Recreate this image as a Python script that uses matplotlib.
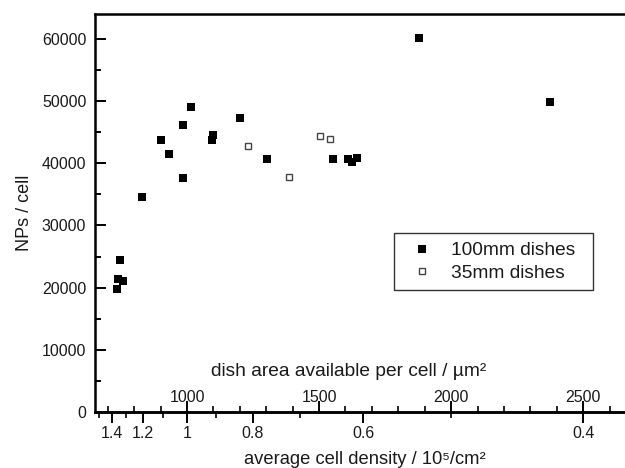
import matplotlib
matplotlib.use("Agg")
import matplotlib.pyplot as plt
from matplotlib.ticker import FixedLocator, FixedFormatter, MultipleLocator

plt.rcParams['font.family'] = ['Liberation Sans', 'DejaVu Sans']

# dish area available per cell (um^2) and NPs per cell
area_100 = [734, 746, 738, 759, 831, 900, 931, 985, 985, 1015, 1097, 1095,
            1201, 1302, 1554, 1611, 1624, 1643, 1879, 2375]
nps_100 = [19750, 24400, 21350, 21030, 34630, 43720, 41470, 46130, 37680, 49020,
           44590, 43790, 47320, 40620, 40620, 40620, 40190, 40830, 60100, 49820]
area_35 = [1232, 1385, 1505, 1543]
nps_35 = [42820, 37730, 44430, 43950]

area_ticks = [1000, 1500, 2000, 2500]
density_major = [1.4, 1.2, 1.0, 0.8, 0.6, 0.4]
density_major_labels = ['1.4', '1.2', '1', '0.8', '0.6', '0.4']
density_minor = [1.5, 1.3, 1.1, 0.9, 0.7, 0.5]
y_ticks = [0, 10000, 20000, 30000, 40000, 50000, 60000]

txt = '#1a1a1a'
fig = plt.figure(figsize=(6.25, 4.68), dpi=100)
ax = fig.add_axes([94.6 / 625, 1 - 412 / 468, (636 - 94.6) / 625, 398 / 468])

ax.plot(area_100, nps_100, 's', color='black', markersize=5.2, markeredgewidth=0,
        linestyle='none', label='100mm dishes')
ax.plot(area_35, nps_35, 's', markerfacecolor='white', markeredgecolor='#444444',
        markersize=5.0, markeredgewidth=1.0, linestyle='none', label='35mm dishes')

ax.set_xlim(650, 2700)
ax.set_ylim(0, 64000)

for s in ['top', 'left', 'bottom']:
    ax.spines[s].set_linewidth(1.8)
ax.spines['right'].set_visible(False)

# y axis
ax.set_yticks(y_ticks)
ax.set_yticklabels([str(v) for v in y_ticks])
ax.yaxis.set_minor_locator(MultipleLocator(5000))
ax.tick_params(axis='y', which='major', direction='in', length=8, width=1.4,
               labelsize=11.5, labelcolor=txt, pad=6)
ax.tick_params(axis='y', which='minor', direction='in', length=4, width=1.4)
ax.set_ylabel('NPs / cell', fontsize=13, color=txt, labelpad=6)

# area axis (ticks inward, labels inside)
ax.set_xticks(area_ticks)
ax.set_xticklabels([str(v) for v in area_ticks])
ax.xaxis.set_minor_locator(MultipleLocator(100))
ax.tick_params(axis='x', which='major', direction='in', length=8, width=1.4,
               labelsize=11.5, labelcolor=txt, pad=-16)
ax.tick_params(axis='x', which='minor', direction='in', length=4, width=1.2)
ax.text(0.47, 0.103, 'dish area available per cell / \u00b5m\u00b2', transform=ax.transAxes,
        ha='center', va='center', fontsize=13.8, color=txt)

# density axis (secondary, below)
sec = ax.secondary_xaxis('bottom', functions=(lambda a: 1000.0 / a, lambda d: 1000.0 / d))
sec.xaxis.set_major_locator(FixedLocator(density_major))
sec.xaxis.set_major_formatter(FixedFormatter(density_major_labels))
sec.xaxis.set_minor_locator(FixedLocator(density_minor))
sec.tick_params(axis='x', which='major', direction='out', length=8, width=1.4,
                labelsize=11.5, labelcolor=txt, pad=2)
sec.tick_params(axis='x', which='minor', direction='out', length=4, width=1.2)
sec.spines['bottom'].set_linewidth(1.8)
sec.set_xlabel('average cell density / 10\u2075/cm\u00b2', fontsize=13.2, color=txt, labelpad=7)

leg = ax.legend(loc='lower left', bbox_to_anchor=(0.553, 0.306, 0.368, 0.144), mode='expand',
                fontsize=13.8, frameon=True, fancybox=False, edgecolor='black',
                handlelength=2.0, handletextpad=0.55, borderpad=0.45, labelspacing=0.25,
                borderaxespad=0)
leg.get_frame().set_linewidth(1.0)
for t in leg.get_texts():
    t.set_color(txt)

fig.savefig('out.png', dpi=100)
